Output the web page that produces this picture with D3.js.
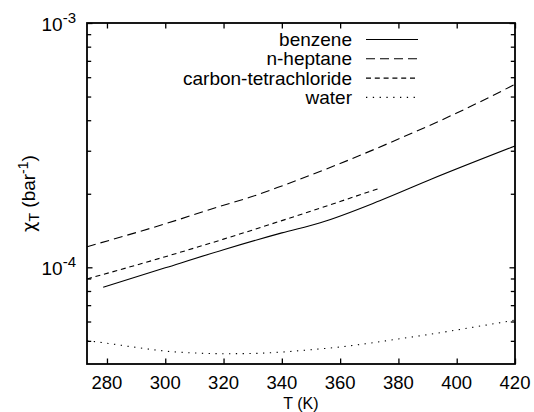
<!DOCTYPE html>
<html><head><meta charset="utf-8">
<script src="https://cdn.jsdelivr.net/npm/d3@7"></script>
<style>body{margin:0;background:#fff}svg{display:block}text{font-family:"Liberation Sans",Arial,Helvetica,sans-serif;fill:#000}</style>
</head><body>
<svg id="c" width="534" height="412"></svg>
<script>
// Data (T in K, isothermal compressibility in bar^-1)
const seriesNames = ["benzene", "n-heptane", "carbon-tetrachloride", "water"];
const benzeneT = [278.7, 300, 320, 340, 353.2, 373.6, 391.4, 420];
const benzeneX = [8.28e-5, 9.95e-5, 1.18e-4, 1.383e-4, 1.522e-4, 1.873e-4, 2.298e-4, 3.137e-4];
const heptaneT = [273.15, 300, 320, 329, 340, 360, 380, 400, 420];
const heptaneX = [1.214e-4, 1.507e-4, 1.795e-4, 1.934e-4, 2.153e-4, 2.66e-4, 3.35e-4, 4.28e-4, 5.61e-4];
const cclT = [273.15, 300, 320, 340, 360, 373.15];
const cclX = [8.96e-5, 1.105e-4, 1.304e-4, 1.553e-4, 1.86e-4, 2.10e-4];
const waterT = [273.15, 280, 290, 300, 310, 320, 330, 340, 350, 360, 370, 380, 390, 400, 410, 420];
const waterX = [5.01e-5, 4.89e-5, 4.70e-5, 4.54e-5, 4.46e-5, 4.43e-5, 4.44e-5, 4.50e-5, 4.60e-5, 4.72e-5, 4.89e-5, 5.09e-5, 5.30e-5, 5.54e-5, 5.80e-5, 6.08e-5];
const xTicks = [280, 300, 320, 340, 360, 380, 400, 420];
const yMajorTicks = [1e-4, 1e-3];
const yMajorExp = ["-4", "-3"];
const yMinorTicks = [5e-5, 6e-5, 7e-5, 8e-5, 9e-5, 2e-4, 3e-4, 4e-4, 5e-4, 6e-4, 7e-4, 8e-4, 9e-4];
const dashes = ["none", "9,5", "5,3.8", "1.3,5.5"];

const L = 87, R = 515, T = 23, B = 364;
const x = d3.scaleLinear().domain([273.15, 420]).range([L, R]);
const y = d3.scaleLog().domain([4.02e-5, 1e-3]).range([B, T]);
const svg = d3.select("#c");

const data = [
  benzeneT.map((t, i) => [t, benzeneX[i]]),
  heptaneT.map((t, i) => [t, heptaneX[i]]),
  cclT.map((t, i) => [t, cclX[i]]),
  waterT.map((t, i) => [t, waterX[i]])
];
const line = d3.line().x(d => x(d[0])).y(d => y(d[1])).curve(d3.curveMonotoneX);
const g = svg.append("g");
data.forEach((s, i) => {
  g.append("path").attr("d", line(s)).attr("fill", "none").attr("stroke", "#000")
    .attr("stroke-width", 1.1).attr("stroke-dasharray", dashes[i]);
});

// Axes with inward ticks
const mk = (axis, tr, sz) => svg.append("g").attr("transform", tr).call(axis.tickSize(sz).tickFormat(""))
  .call(a => a.select(".domain").remove()).call(a => a.selectAll("line").attr("stroke", "#000").attr("stroke-width", 1.3));
mk(d3.axisTop(x).tickValues(xTicks), `translate(0,${B})`, 5.5);
mk(d3.axisBottom(x).tickValues(xTicks), `translate(0,${T})`, 5.5);
mk(d3.axisRight(y).tickValues(yMajorTicks), `translate(${L},0)`, 5.5);
mk(d3.axisRight(y).tickValues(yMinorTicks), `translate(${L},0)`, 4.2);
mk(d3.axisLeft(y).tickValues(yMajorTicks), `translate(${R},0)`, 5.5);
mk(d3.axisLeft(y).tickValues(yMinorTicks), `translate(${R},0)`, 4.2);

svg.append("rect").attr("x", L).attr("y", T).attr("width", R - L).attr("height", B - T)
  .attr("fill", "none").attr("stroke", "#000").attr("stroke-width", 1.8);

// Tick labels
svg.append("g").selectAll("text").data(xTicks).join("text")
  .attr("x", d => x(d)).attr("y", 389).attr("text-anchor", "middle").attr("font-size", 18.5).text(d => d);
yMajorTicks.forEach((v, i) => {
  const t = svg.append("text").attr("x", 76).attr("y", y(v) + 8).attr("text-anchor", "end").attr("font-size", 19);
  t.append("tspan").text("10");
  t.append("tspan").attr("font-size", 15).attr("dy", -8).text(yMajorExp[i]);
});

// Axis titles
svg.append("text").attr("x", (L + R) / 2).attr("y", 408.5).attr("text-anchor", "middle").attr("font-size", 16).text("T (K)");
const yt = svg.append("text").attr("transform", `translate(35,${(T + B) / 2}) rotate(-90)`)
  .attr("text-anchor", "middle").attr("font-size", 19);
yt.append("tspan").attr("font-family", "'DejaVu Sans', sans-serif").attr("font-size", 18).text("χ");
yt.append("tspan").attr("font-size", 14).attr("dy", 4).text("T");
yt.append("tspan").attr("dy", -4).text(" (bar");
yt.append("tspan").attr("font-size", 14).attr("dy", -7).text("-1");
yt.append("tspan").attr("dy", 7).text(")");

// Legend
seriesNames.forEach((n, i) => {
  const yy = 39.5 + i * 19.3;
  svg.append("text").attr("x", 352).attr("y", yy + 6.5).attr("text-anchor", "end").attr("font-size", 19).text(n);
  svg.append("line").attr("x1", 366).attr("x2", 418).attr("y1", yy).attr("y2", yy)
    .attr("stroke", "#000").attr("stroke-width", 1.1).attr("stroke-dasharray", dashes[i]);
});
</script>
</body></html>
